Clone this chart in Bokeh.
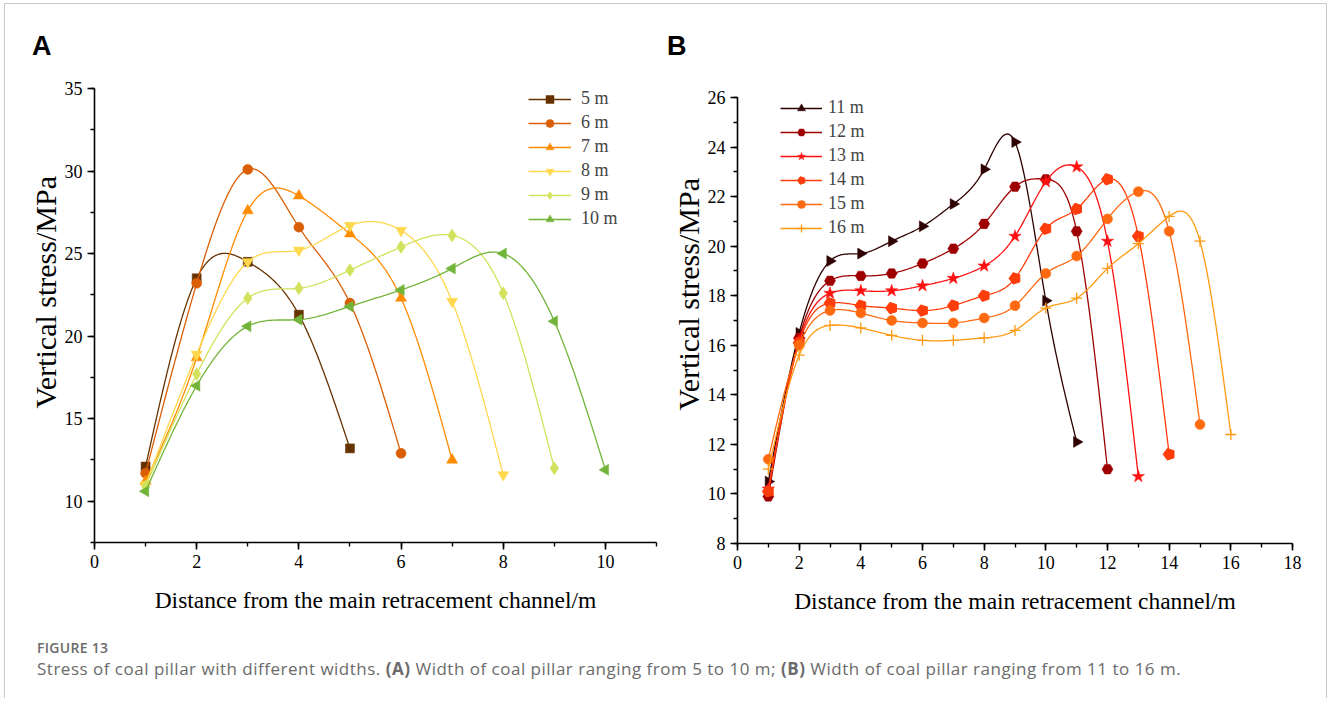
import numpy as np
from bokeh.plotting import figure
from bokeh.layouts import column, row
from bokeh.models import (Range1d, SingleIntervalTicker, Legend, LegendItem, Title, Div, Spacer)
from bokeh.embed import file_html
from bokeh.resources import INLINE

# ---------------- data ----------------
labels_a = ["5 m", "6 m", "7 m", "8 m", "9 m", "10 m"]
s5 = [12.1, 23.5, 24.5, 21.3, 13.2]
s6 = [11.7, 23.2, 30.1, 26.6, 22.0, 12.9]
s7 = [11.2, 18.7, 27.6, 28.5, 26.2, 22.3, 12.5]
s8 = [11.0, 18.9, 24.5, 25.2, 26.7, 26.4, 22.1, 11.6]
s9 = [10.9, 17.7, 22.3, 22.9, 24.0, 25.4, 26.1, 22.6, 12.0]
s10 = [10.6, 17.0, 20.6, 21.0, 21.8, 22.8, 24.1, 25.0, 20.9, 11.9]

labels_b = ["11 m", "12 m", "13 m", "14 m", "15 m", "16 m"]
s11 = [10.5, 16.5, 19.4, 19.7, 20.2, 20.8, 21.7, 23.1, 24.2, 17.8, 12.1]
s12 = [9.9, 16.3, 18.6, 18.8, 18.9, 19.3, 19.9, 20.9, 22.4, 22.7, 20.6, 11.0]
s13 = [10.2, 16.2, 18.1, 18.2, 18.2, 18.4, 18.7, 19.2, 20.4, 22.6, 23.2, 20.2, 10.7]
s14 = [10.1, 16.1, 17.7, 17.6, 17.5, 17.4, 17.6, 18.0, 18.7, 20.7, 21.5, 22.7, 20.4, 11.6]
s15 = [11.4, 16.0, 17.4, 17.3, 17.0, 16.9, 16.9, 17.1, 17.6, 18.9, 19.6, 21.1, 22.2, 20.6, 12.8]
s16 = [11.0, 15.6, 16.8, 16.7, 16.4, 16.2, 16.2, 16.3, 16.6, 17.5, 17.9, 19.1, 20.1, 21.2, 20.2, 12.4]

series_a = [s5, s6, s7, s8, s9, s10]
series_b = [s11, s12, s13, s14, s15, s16]

colors_a = ["#663300", "#DA5E05", "#FF8C00", "#FFD84D", "#D3E25C", "#72B43A"]
colors_b = ["#2E0000", "#9E0000", "#FF1010", "#FF3D0A", "#FF6A10", "#FF9A10"]

SERIF = "Liberation Serif"


def natural_spline(x, y, n=300):
    x = np.asarray(x, float)
    y = np.asarray(y, float)
    m = len(x)
    h = np.diff(x)
    A = np.zeros((m, m))
    r = np.zeros(m)
    A[0, 0] = 1
    A[-1, -1] = 1
    for i in range(1, m - 1):
        A[i, i - 1] = h[i - 1]
        A[i, i] = 2 * (h[i - 1] + h[i])
        A[i, i + 1] = h[i]
        r[i] = 3 * ((y[i + 1] - y[i]) / h[i] - (y[i] - y[i - 1]) / h[i - 1])
    c = np.linalg.solve(A, r)
    xs = np.linspace(x[0], x[-1], n)
    idx = np.clip(np.searchsorted(x, xs) - 1, 0, m - 2)
    dx = xs - x[idx]
    b = (y[1:] - y[:-1]) / h - h * (2 * c[:-1] + c[1:]) / 3
    d = (c[1:] - c[:-1]) / (3 * h)
    ys = y[idx] + b[idx] * dx + c[idx] * dx ** 2 + d[idx] * dx ** 3
    return xs, ys


def style_axes(p):
    for ax in (p.xaxis[0], p.yaxis[0]):
        ax.axis_line_width = 1.6
        ax.major_tick_line_width = 1.6
        ax.minor_tick_line_width = 1.4
        ax.major_tick_out = 7
        ax.major_tick_in = 0
        ax.minor_tick_out = 4
        ax.minor_tick_in = 0
        ax.major_label_text_font = SERIF
        ax.major_label_text_font_size = "18px"
        ax.major_label_text_color = "black"
        ax.axis_line_color = "black"
        ax.major_tick_line_color = "black"
        ax.minor_tick_line_color = "black"
        ax.major_label_standoff = 5
    p.xaxis[0].axis_label_text_font = SERIF
    p.xaxis[0].axis_label_text_font_size = "23.5px"
    p.xaxis[0].axis_label_text_font_style = "normal"
    p.xaxis[0].axis_label_text_color = "black"
    p.xaxis[0].axis_label_standoff = 16
    p.xgrid.visible = False
    p.ygrid.visible = False
    p.outline_line_color = None


def make_fig(frame_w, frame_h, top, left, right, bottom, xr, yr, xint, yint):
    p = figure(frame_width=frame_w, frame_height=frame_h, output_backend="svg",
               toolbar_location=None, x_range=Range1d(*xr), y_range=Range1d(*yr),
               min_border_top=top, min_border_left=left, min_border_right=right,
               min_border_bottom=bottom, background_fill_color=None,
               border_fill_color=None)
    p.xaxis[0].ticker = SingleIntervalTicker(interval=xint[0], num_minor_ticks=xint[1])
    p.yaxis[0].ticker = SingleIntervalTicker(interval=yint[0], num_minor_ticks=yint[1])
    p.xaxis[0].axis_label = "Distance from the main retracement channel/m"
    style_axes(p)
    return p


def ylabel(p, offset, size):
    t = Title(text="Vertical stress/MPa", align="left", offset=offset,
              text_font=SERIF, text_font_size=size, text_font_style="normal",
              text_color="black", standoff=0)
    p.add_layout(t, "left")


# ---------------- panel A ----------------
pA = make_fig(562, 454, 24, 89, 5, 73, (0, 11), (7.5, 35), (2, 2), (5, 2))
ylabel(pA, 134, "30px")
markers_a = [("square", 9, 0), ("circle", 10, 0), ("triangle", 11, 0),
             ("inverted_triangle", 11, 0), ("diamond", 13, 0), ("triangle", 11, np.pi / 2)]
items = []
for lab, ys, col, (mk, sz, ang) in zip(labels_a, series_a, colors_a, markers_a):
    xs = list(range(1, len(ys) + 1))
    sx, sy = natural_spline(xs, ys)
    lr = pA.line(sx, sy, line_color=col, line_width=1.3)
    sr = pA.scatter(xs, ys, marker=mk, size=sz, angle=ang, fill_color=col,
                    line_color=col, line_width=0.5)
    items.append(LegendItem(label=lab, renderers=[lr, sr]))
legA = Legend(items=items, location=(434, 313), glyph_width=43, glyph_height=20,
              label_height=20, spacing=3, padding=0, margin=0, label_standoff=10,
              label_text_font=SERIF, label_text_font_size="18px",
              background_fill_alpha=0, border_line_color=None)
pA.add_layout(legA)

# ---------------- panel B ----------------
pB = make_fig(555, 446, 24, 76, 20, 72, (0, 18), (8, 26), (2, 2), (2, 2))
ylabel(pB, 133, "30px")
items = []
markers_b = [("triangle", 11, -np.pi / 2), ("hex", 11, 0), ("star", 13, 0),
             ("pent", 6, np.pi / 2), ("circle", 10, 0), ("cross", 11, 0)]
for lab, ys, col, (mk, sz, ang) in zip(labels_b, series_b, colors_b, markers_b):
    xs = list(range(1, len(ys) + 1))
    sx, sy = natural_spline(xs, ys)
    lr = pB.line(sx, sy, line_color=col, line_width=1.3)
    if mk == "pent":
        try:
            sr = pB.ngon(xs, ys, radius=sz, radius_units="screen", n=5, angle=ang,
                         fill_color=col, line_color=col)
        except Exception:
            sr = pB.scatter(xs, ys, marker="hex", size=11, fill_color=col, line_color=col)
    elif mk == "cross":
        sr = pB.scatter(xs, ys, marker=mk, size=sz, line_color=col, line_width=1.3)
    else:
        sr = pB.scatter(xs, ys, marker=mk, size=sz, angle=ang, fill_color=col,
                        line_color=col, line_width=0.5)
    items.append(LegendItem(label=lab, renderers=[lr, sr]))
legB = Legend(items=items, location=(43, 305), glyph_width=42, glyph_height=20,
              label_height=20, spacing=3, padding=0, margin=0, label_standoff=6,
              label_text_font=SERIF, label_text_font_size="18px",
              background_fill_alpha=0, border_line_color=None)
pB.add_layout(legB)

# ---------------- header / caption ----------------
header = Div(width=1321, height=60, margin=0, text=(
    '<div style="position:relative;width:1321px;height:60px;">'
    '<div style="position:absolute;left:27px;top:29px;font:bold 27px \'Liberation Sans\';line-height:1;color:#000;">A</div>'
    '<div style="position:absolute;left:662px;top:29px;font:bold 27px \'Liberation Sans\';line-height:1;color:#000;">B</div>'
    '</div>'))

caption = Div(width=1321, height=82, margin=0, text=(
    '<div style="position:relative;width:1321px;height:82px;font-family:\'Open Sans\';color:#6b6b6b;">'
    '<div style="position:absolute;left:32px;top:25px;font-size:14px;font-weight:600;line-height:1;letter-spacing:0.3px;white-space:nowrap;">FIGURE 13</div>'
    '<div style="position:absolute;left:32px;top:44px;font-size:17px;line-height:1;letter-spacing:0.5px;white-space:nowrap;">'
    'Stress of coal pillar with different widths. <b>(A)</b> Width of coal pillar ranging from 5 to 10 m; '
    '<b>(B)</b> Width of coal pillar ranging from 11 to 16 m.</div>'
    '</div>'))

colA = column(pA, margin=0)
colB = column(Spacer(height=9, width=10, margin=0), pB, margin=0)
layout = column(header, row(colA, colB, margin=0), caption, margin=(3, 0, 0, 4),
                styles={"border-left": "1px solid #c9c9c9", "border-top": "1px solid #c9c9c9",
                        "border-right": "1px solid #c9c9c9"})

open("out.html", "w").write(file_html(layout, INLINE))
